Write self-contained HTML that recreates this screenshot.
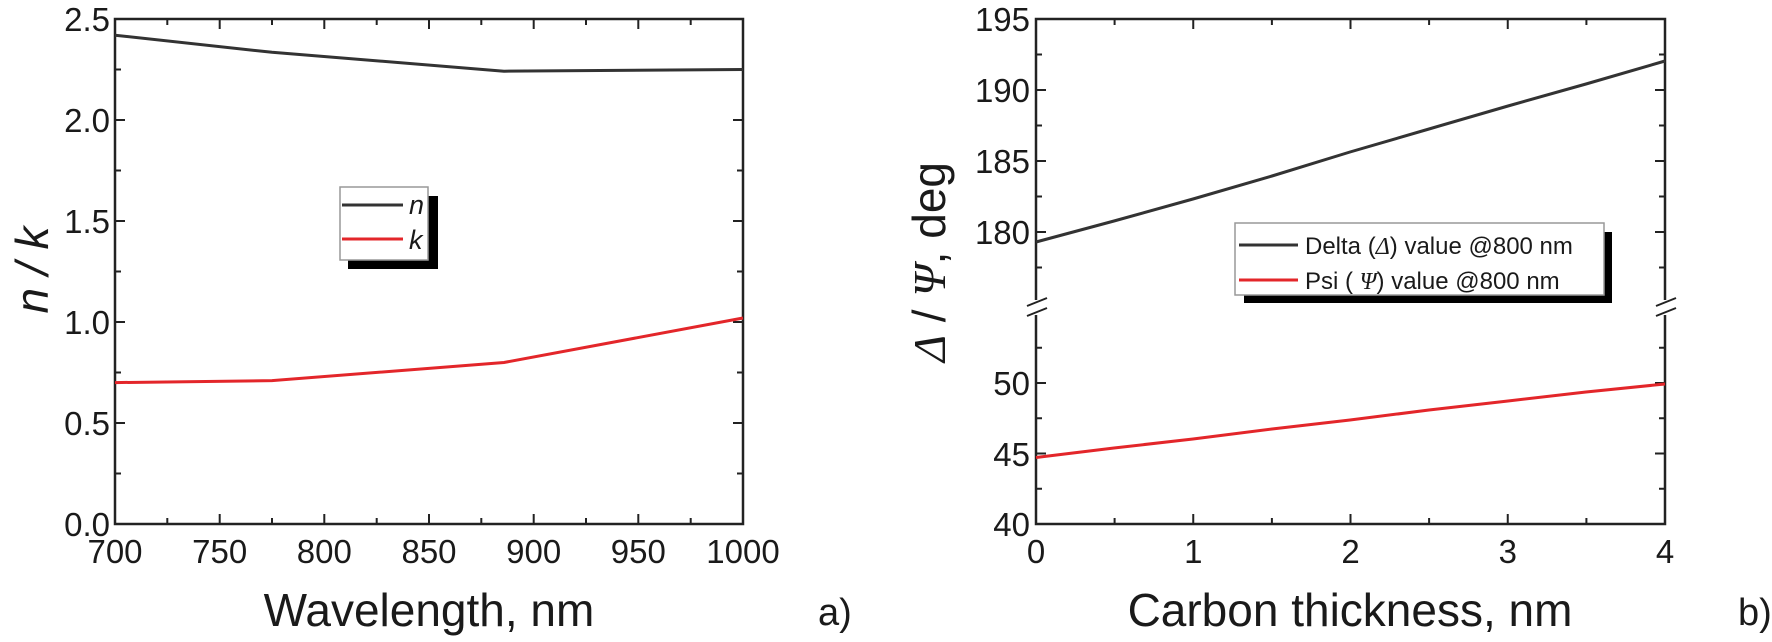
<!DOCTYPE html>
<html><head><meta charset="utf-8"><style>
html,body{margin:0;padding:0;background:#fff;}
svg{display:block;}
text{font-family:"Liberation Sans",Arial,sans-serif;fill:#1a1a1a;}
</style></head><body>
<svg width="1772" height="642" viewBox="0 0 1772 642" xmlns="http://www.w3.org/2000/svg">
<!-- LEFT PLOT -->
<g stroke="#222" stroke-width="2.5" fill="none">
<rect x="115" y="19" width="628" height="505"/>
</g>
<g stroke="#222" stroke-width="2">
<path d="M115,524v-10 M219.7,524v-10 M324.3,524v-10 M429,524v-10 M533.7,524v-10 M638.3,524v-10 M743,524v-10
M167.3,524v-6 M272,524v-6 M376.7,524v-6 M481.3,524v-6 M586,524v-6 M690.7,524v-6
M115,19v10 M219.7,19v10 M324.3,19v10 M429,19v10 M533.7,19v10 M638.3,19v10
M167.3,19v6 M272,19v6 M376.7,19v6 M481.3,19v6 M586,19v6 M690.7,19v6
M115,19h10 M115,120h10 M115,221h10 M115,322h10 M115,423h10
M115,69.5h6 M115,170.5h6 M115,271.5h6 M115,372.5h6 M115,473.5h6
M743,120h-10 M743,221h-10 M743,322h-10 M743,423h-10
M743,69.5h-6 M743,170.5h-6 M743,271.5h-6 M743,372.5h-6 M743,473.5h-6"/>
</g>
<g font-size="33" text-anchor="end">
<text x="110" y="31">2.5</text><text x="110" y="132">2.0</text><text x="110" y="233">1.5</text>
<text x="110" y="334">1.0</text><text x="110" y="435">0.5</text><text x="110" y="536">0.0</text>
</g>
<g font-size="33" text-anchor="middle">
<text x="115" y="563">700</text><text x="219.7" y="563">750</text><text x="324.3" y="563">800</text>
<text x="429" y="563">850</text><text x="533.7" y="563">900</text><text x="638.3" y="563">950</text><text x="743" y="563">1000</text>
</g>
<text x="429" y="626" font-size="46" text-anchor="middle">Wavelength, nm</text>
<text transform="translate(48,270) rotate(-90)" font-size="46" font-style="italic" text-anchor="middle">n / k</text>
<text x="818" y="625" font-size="38" fill="#111">a)</text>
<polyline fill="none" stroke="#333" stroke-width="3" points="115,35.2 272,52.3 504,71.2 743,69.5"/>
<polyline fill="none" stroke="#e3262a" stroke-width="3" points="115,382.6 272,380.6 504,362.5 743,318"/>
<!-- legend -->
<rect x="348" y="196" width="90" height="73" fill="#000"/>
<rect x="340" y="187" width="88" height="73" fill="#fff" stroke="#999" stroke-width="1.5"/>
<line x1="342" y1="205" x2="403" y2="205" stroke="#333" stroke-width="3"/>
<line x1="342" y1="239" x2="403" y2="239" stroke="#e3262a" stroke-width="3"/>
<text x="409" y="214" font-size="27" font-style="italic">n</text>
<text x="409" y="249" font-size="27" font-style="italic">k</text>

<!-- RIGHT PLOT -->
<g stroke="#222" stroke-width="2.5" fill="none">
<path d="M1036,300 V19 H1665 V300 M1665,315 V524 H1036 V315"/>
<path d="M1027,306 L1047,298 M1027,316 L1047,308 M1656,306 L1676,298 M1656,316 L1676,308" stroke-width="2"/>
</g>
<g stroke="#222" stroke-width="2">
<path d="M1036,524v-10 M1193.25,524v-10 M1350.5,524v-10 M1507.75,524v-10
M1114.6,524v-6 M1271.9,524v-6 M1429.1,524v-6 M1586.4,524v-6
M1036,19v10 M1193.25,19v10 M1350.5,19v10 M1507.75,19v10
M1114.6,19v6 M1271.9,19v6 M1429.1,19v6 M1586.4,19v6
M1036,90h10 M1036,161h10 M1036,232h10 M1036,54.5h6 M1036,125.5h6 M1036,196.5h6 M1036,267.5h6
M1036,383h10 M1036,453.5h10 M1036,347.7h6 M1036,418.2h6 M1036,488.7h6
M1665,90h-10 M1665,161h-10 M1665,232h-10 M1665,54.5h-6 M1665,125.5h-6 M1665,196.5h-6 M1665,267.5h-6
M1665,383h-10 M1665,453.5h-10 M1665,347.7h-6 M1665,418.2h-6 M1665,488.7h-6"/>
</g>
<g font-size="33" text-anchor="end">
<text x="1030" y="31">195</text><text x="1030" y="102">190</text><text x="1030" y="173">185</text><text x="1030" y="244">180</text>
<text x="1030" y="395">50</text><text x="1030" y="466">45</text><text x="1030" y="536">40</text>
</g>
<g font-size="33" text-anchor="middle">
<text x="1036" y="563">0</text><text x="1193.25" y="563">1</text><text x="1350.5" y="563">2</text><text x="1507.75" y="563">3</text><text x="1665" y="563">4</text>
</g>
<text x="1350" y="626" font-size="46" text-anchor="middle">Carbon thickness, nm</text>
<text transform="translate(945,262) rotate(-90)" font-size="46" text-anchor="middle"><tspan font-family="Liberation Serif" font-style="italic">Δ</tspan> / <tspan font-family="Liberation Serif" font-style="italic">Ψ</tspan>, deg</text>
<text x="1738" y="625" font-size="38" fill="#111">b)</text>
<polyline fill="none" stroke="#333" stroke-width="3" points="1036,242 1114,221 1193,199 1272,176 1350,152 1429,129 1508,106 1586,84 1665,61"/>
<polyline fill="none" stroke="#e3262a" stroke-width="3" points="1036,457.5 1114,448 1193,439 1272,429 1350,420 1429,410 1508,401 1586,392 1665,384"/>
<!-- legend -->
<rect x="1244" y="232" width="368" height="71" fill="#000"/>
<rect x="1235" y="223" width="369" height="72" fill="#fff" stroke="#999" stroke-width="1.5"/>
<line x1="1239" y1="245" x2="1298" y2="245" stroke="#333" stroke-width="3"/>
<line x1="1239" y1="280" x2="1298" y2="280" stroke="#e3262a" stroke-width="3"/>
<text x="1305" y="254" font-size="24">Delta (<tspan font-family="Liberation Serif" font-style="italic">Δ</tspan>) value @800 nm</text>
<text x="1305" y="289" font-size="24">Psi ( <tspan font-family="Liberation Serif" font-style="italic">Ψ</tspan>) value @800 nm</text>
</svg>
</body></html>
